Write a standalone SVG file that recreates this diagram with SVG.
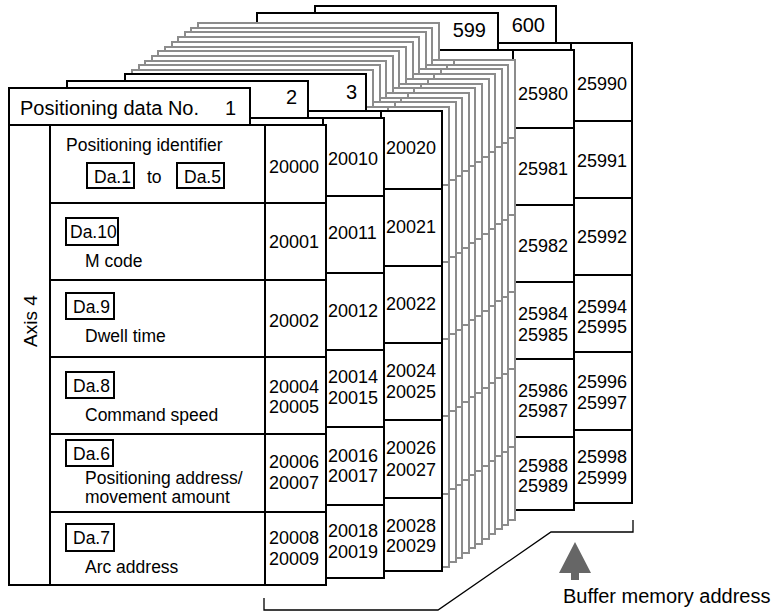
<svg xmlns="http://www.w3.org/2000/svg" width="776" height="615" viewBox="0 0 776 615">
<style>
  text { font-family: "Liberation Sans", Arial, sans-serif; fill: #000; }
  .hd { font-size: 20px; }
  .ad { font-size: 18px; }
  .lb { font-size: 17.5px; }
  .blk { stroke: #000; }
  .gry { stroke: #8c8c8c; }
  .box { fill: none; stroke: #000; stroke-width: 2; }
  .end { text-anchor: end; }
</style>
<defs>
  <g id="sheet" stroke-width="2">
    <path d="M0,0H241V37H317V497H0Z" fill="#fff"/>
    <path d="M0,37H317M41,37V497M256,37V497M41,115H317M41,192H317M41,269H317M41,346H317M41,424H317" fill="none"/>
  </g>
</defs>

<g id="sheet600">
  <use href="#sheet" class="blk" x="315" y="6"/>
  <text class="hd end" x="545" y="32">600</text>
  <g class="ad">
    <text x="577" y="90">25990</text>
    <text x="577" y="167">25991</text>
    <text x="577" y="243">25992</text>
    <text x="577" y="313">25994</text>
    <text x="577" y="333">25995</text>
    <text x="577" y="388">25996</text>
    <text x="577" y="409">25997</text>
    <text x="577" y="463">25998</text>
    <text x="577" y="484">25999</text>
  </g>
</g>

<g id="sheet599">
  <use href="#sheet" class="blk" x="257" y="13"/>
  <text class="hd end" x="486" y="37">599</text>
  <g class="ad">
    <text x="518" y="100">25980</text>
    <text x="518" y="175">25981</text>
    <text x="518" y="252">25982</text>
    <text x="518" y="320">25984</text>
    <text x="518" y="341">25985</text>
    <text x="518" y="397">25986</text>
    <text x="518" y="417">25987</text>
    <text x="518" y="472">25988</text>
    <text x="518" y="492">25989</text>
  </g>
</g>

<g id="intermediate-sheets">
  <use href="#sheet" class="gry" x="198" y="23"/>
  <use href="#sheet" class="gry" x="191" y="28"/>
  <use href="#sheet" class="gry" x="185" y="32"/>
  <use href="#sheet" class="gry" x="178" y="37"/>
  <use href="#sheet" class="gry" x="172" y="42"/>
  <use href="#sheet" class="gry" x="165" y="47"/>
  <use href="#sheet" class="gry" x="158" y="51"/>
  <use href="#sheet" class="gry" x="152" y="56"/>
  <use href="#sheet" class="gry" x="145" y="61"/>
  <use href="#sheet" class="gry" x="139" y="65"/>
  <use href="#sheet" class="gry" x="132" y="70"/>
</g>

<g id="sheet3">
  <use href="#sheet" class="blk" x="125" y="74"/>
  <text class="hd end" x="357" y="99">3</text>
  <g class="ad">
    <text x="386" y="154">20020</text>
    <text x="386" y="233">20021</text>
    <text x="386" y="310">20022</text>
    <text x="386" y="377">20024</text>
    <text x="386" y="398">20025</text>
    <text x="386" y="454">20026</text>
    <text x="386" y="476">20027</text>
    <text x="386" y="532">20028</text>
    <text x="386" y="552">20029</text>
  </g>
</g>

<g id="sheet2">
  <use href="#sheet" class="blk" x="67" y="81"/>
  <text class="hd end" x="297" y="104">2</text>
  <g class="ad">
    <text x="328" y="165">20010</text>
    <text x="328" y="239">20011</text>
    <text x="328" y="317">20012</text>
    <text x="328" y="383">20014</text>
    <text x="328" y="404">20015</text>
    <text x="328" y="462">20016</text>
    <text x="328" y="482">20017</text>
    <text x="328" y="537">20018</text>
    <text x="328" y="558">20019</text>
  </g>
</g>

<g id="sheet1">
  <use href="#sheet" class="blk" x="9" y="88"/>
  <text class="hd" x="20" y="115">Positioning data No.</text>
  <text class="hd" x="225" y="115">1</text>
  <text class="lb" font-size="19" transform="translate(37,321) rotate(-90)" text-anchor="middle" style="font-size:19px">Axis 4</text>
  <g class="lb">
    <text x="66" y="151">Positioning identifier</text>
    <rect class="box" x="87" y="163" width="47" height="25"/>
    <text x="94" y="183">Da.1</text>
    <text x="147" y="183">to</text>
    <rect class="box" x="177" y="163" width="47" height="25"/>
    <text x="184" y="183">Da.5</text>

    <rect class="box" x="66" y="218" width="52" height="27"/>
    <text x="70" y="238">Da.10</text>
    <text x="85" y="267">M code</text>

    <rect class="box" x="66" y="293" width="48" height="26"/>
    <text x="73" y="313">Da.9</text>
    <text x="85" y="342">Dwell time</text>

    <rect class="box" x="66" y="372" width="48" height="26"/>
    <text x="73" y="392">Da.8</text>
    <text x="85" y="421">Command speed</text>

    <rect class="box" x="66" y="440" width="47" height="26"/>
    <text x="73" y="460">Da.6</text>
    <text x="85" y="484">Positioning address/</text>
    <text x="85" y="503">movement amount</text>

    <rect class="box" x="66" y="524" width="48" height="27"/>
    <text x="73" y="544">Da.7</text>
    <text x="85" y="573">Arc address</text>
  </g>
  <g class="ad">
    <text x="269" y="173">20000</text>
    <text x="269" y="248">20001</text>
    <text x="269" y="327">20002</text>
    <text x="269" y="393">20004</text>
    <text x="269" y="413">20005</text>
    <text x="269" y="468">20006</text>
    <text x="269" y="489">20007</text>
    <text x="269" y="544">20008</text>
    <text x="269" y="565">20009</text>
  </g>
</g>

<g id="connectors">
  <polyline points="264,598 264,610 438,610 551,532 633,532 633,520" fill="none" stroke="#000" stroke-width="1.3"/>
  <path d="M575,542 L591,573 L579,573 L579,580 L571,580 L571,573 L559,573 Z" fill="#666"/>
</g>

<g id="label-buffer">
  <text class="hd" x="563" y="603">Buffer memory address</text>
</g>
</svg>
